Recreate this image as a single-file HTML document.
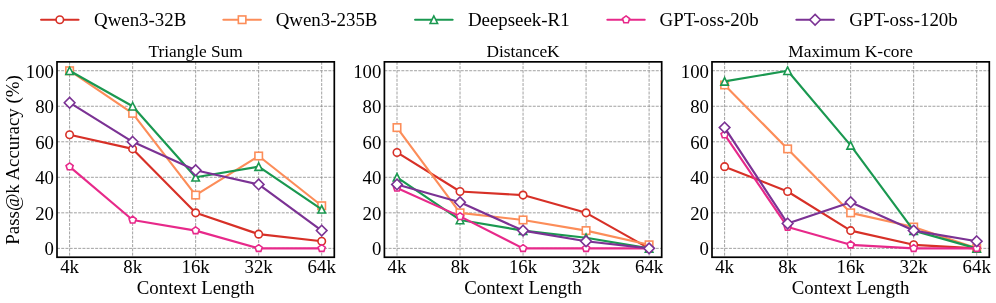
<!DOCTYPE html>
<html lang="en"><head><meta charset="utf-8"><title>Pass@k Accuracy vs Context Length</title>
<style>html,body{margin:0;padding:0;background:#fff}body{width:996px;height:303px;overflow:hidden}svg{display:block}</style></head>
<body>
<svg width="996" height="303" viewBox="0 0 996 303" font-family='"Liberation Serif", serif' fill="#000">
<rect width="996" height="303" fill="#fff"/>
<line x1="41.1" y1="19.7" x2="78.5" y2="19.7" stroke="#d73027" stroke-width="2.15" stroke-linecap="round"/>
<circle cx="59.80" cy="19.70" r="3.75" fill="#fff" stroke="#d73027" stroke-width="1.6" stroke-linejoin="miter"/>
<text x="94" y="25.9" font-size="18.9">Qwen3-32B</text>
<line x1="223.4" y1="19.7" x2="260.8" y2="19.7" stroke="#fc8d59" stroke-width="2.15" stroke-linecap="round"/>
<rect x="238.35" y="15.95" width="7.50" height="7.50" fill="#fff" stroke="#fc8d59" stroke-width="1.6" stroke-linejoin="miter"/>
<text x="275.7" y="25.9" font-size="18.9">Qwen3-235B</text>
<line x1="415.1" y1="19.7" x2="452.6" y2="19.7" stroke="#1a9850" stroke-width="2.15" stroke-linecap="round"/>
<polygon points="433.85,15.95 430.10,23.45 437.60,23.45" fill="#fff" stroke="#1a9850" stroke-width="1.6" stroke-linejoin="miter"/>
<text x="467.9" y="25.9" font-size="18.9">Deepseek-R1</text>
<line x1="607.4" y1="19.7" x2="644.7" y2="19.7" stroke="#e7298a" stroke-width="2.15" stroke-linecap="round"/>
<polygon points="626.05,15.95 629.62,18.54 628.25,22.73 623.85,22.73 622.48,18.54" fill="#fff" stroke="#e7298a" stroke-width="1.6" stroke-linejoin="miter"/>
<text x="659.6" y="25.9" font-size="18.9">GPT-oss-20b</text>
<line x1="796.4" y1="19.7" x2="833.8" y2="19.7" stroke="#7b3294" stroke-width="2.15" stroke-linecap="round"/>
<polygon points="815.10,14.40 820.40,19.70 815.10,25.00 809.80,19.70" fill="#fff" stroke="#7b3294" stroke-width="1.6" stroke-linejoin="miter"/>
<text x="849.3" y="25.9" font-size="18.9">GPT-oss-120b</text>
<path d="M69.60 61.85V257.25M132.63 61.85V257.25M195.65 61.85V257.25M258.67 61.85V257.25M321.70 61.85V257.25M57.00 248.37H334.30M57.00 212.84H334.30M57.00 177.31H334.30M57.00 141.79H334.30M57.00 106.26H334.30M57.00 70.73H334.30" stroke="#909090" stroke-width="0.85" stroke-dasharray="2.96 1.28" fill="none"/>
<polyline points="69.60,134.68 132.63,148.89 195.65,212.84 258.67,234.16 321.70,241.26" fill="none" stroke="#d73027" stroke-width="2.15" stroke-linejoin="round"/>
<circle cx="69.60" cy="134.68" r="3.75" fill="#fff" stroke="#d73027" stroke-width="1.6" stroke-linejoin="miter"/>
<circle cx="132.63" cy="148.89" r="3.75" fill="#fff" stroke="#d73027" stroke-width="1.6" stroke-linejoin="miter"/>
<circle cx="195.65" cy="212.84" r="3.75" fill="#fff" stroke="#d73027" stroke-width="1.6" stroke-linejoin="miter"/>
<circle cx="258.67" cy="234.16" r="3.75" fill="#fff" stroke="#d73027" stroke-width="1.6" stroke-linejoin="miter"/>
<circle cx="321.70" cy="241.26" r="3.75" fill="#fff" stroke="#d73027" stroke-width="1.6" stroke-linejoin="miter"/>
<polyline points="69.60,70.73 132.63,113.36 195.65,195.08 258.67,156.00 321.70,205.74" fill="none" stroke="#fc8d59" stroke-width="2.15" stroke-linejoin="round"/>
<rect x="65.85" y="66.98" width="7.50" height="7.50" fill="#fff" stroke="#fc8d59" stroke-width="1.6" stroke-linejoin="miter"/>
<rect x="128.88" y="109.61" width="7.50" height="7.50" fill="#fff" stroke="#fc8d59" stroke-width="1.6" stroke-linejoin="miter"/>
<rect x="191.90" y="191.33" width="7.50" height="7.50" fill="#fff" stroke="#fc8d59" stroke-width="1.6" stroke-linejoin="miter"/>
<rect x="254.92" y="152.25" width="7.50" height="7.50" fill="#fff" stroke="#fc8d59" stroke-width="1.6" stroke-linejoin="miter"/>
<rect x="317.95" y="201.99" width="7.50" height="7.50" fill="#fff" stroke="#fc8d59" stroke-width="1.6" stroke-linejoin="miter"/>
<polyline points="69.60,70.73 132.63,106.26 195.65,177.31 258.67,166.66 321.70,209.29" fill="none" stroke="#1a9850" stroke-width="2.15" stroke-linejoin="round"/>
<polygon points="69.60,66.98 65.85,74.48 73.35,74.48" fill="#fff" stroke="#1a9850" stroke-width="1.6" stroke-linejoin="miter"/>
<polygon points="132.63,102.51 128.88,110.01 136.38,110.01" fill="#fff" stroke="#1a9850" stroke-width="1.6" stroke-linejoin="miter"/>
<polygon points="195.65,173.56 191.90,181.06 199.40,181.06" fill="#fff" stroke="#1a9850" stroke-width="1.6" stroke-linejoin="miter"/>
<polygon points="258.67,162.91 254.92,170.41 262.42,170.41" fill="#fff" stroke="#1a9850" stroke-width="1.6" stroke-linejoin="miter"/>
<polygon points="321.70,205.54 317.95,213.04 325.45,213.04" fill="#fff" stroke="#1a9850" stroke-width="1.6" stroke-linejoin="miter"/>
<polyline points="69.60,166.66 132.63,219.95 195.65,230.60 258.67,248.37 321.70,248.37" fill="none" stroke="#e7298a" stroke-width="2.15" stroke-linejoin="round"/>
<polygon points="69.60,162.91 73.17,165.50 71.81,169.69 67.40,169.69 66.04,165.50" fill="#fff" stroke="#e7298a" stroke-width="1.6" stroke-linejoin="miter"/>
<polygon points="132.63,216.20 136.19,218.79 134.83,222.98 130.42,222.98 129.06,218.79" fill="#fff" stroke="#e7298a" stroke-width="1.6" stroke-linejoin="miter"/>
<polygon points="195.65,226.85 199.22,229.45 197.85,233.64 193.45,233.64 192.08,229.45" fill="#fff" stroke="#e7298a" stroke-width="1.6" stroke-linejoin="miter"/>
<polygon points="258.67,244.62 262.24,247.21 260.88,251.40 256.47,251.40 255.11,247.21" fill="#fff" stroke="#e7298a" stroke-width="1.6" stroke-linejoin="miter"/>
<polygon points="321.70,244.62 325.26,247.21 323.90,251.40 319.49,251.40 318.13,247.21" fill="#fff" stroke="#e7298a" stroke-width="1.6" stroke-linejoin="miter"/>
<polyline points="69.60,102.71 132.63,141.79 195.65,170.21 258.67,184.42 321.70,230.60" fill="none" stroke="#7b3294" stroke-width="2.15" stroke-linejoin="round"/>
<polygon points="69.60,97.40 74.91,102.71 69.60,108.01 64.30,102.71" fill="#fff" stroke="#7b3294" stroke-width="1.6" stroke-linejoin="miter"/>
<polygon points="132.63,136.48 137.93,141.79 132.63,147.09 127.32,141.79" fill="#fff" stroke="#7b3294" stroke-width="1.6" stroke-linejoin="miter"/>
<polygon points="195.65,164.90 200.95,170.21 195.65,175.51 190.35,170.21" fill="#fff" stroke="#7b3294" stroke-width="1.6" stroke-linejoin="miter"/>
<polygon points="258.67,179.12 263.98,184.42 258.67,189.72 253.37,184.42" fill="#fff" stroke="#7b3294" stroke-width="1.6" stroke-linejoin="miter"/>
<polygon points="321.70,225.30 327.00,230.60 321.70,235.91 316.39,230.60" fill="#fff" stroke="#7b3294" stroke-width="1.6" stroke-linejoin="miter"/>
<rect x="57.00" y="61.85" width="277.3" height="195.4" fill="none" stroke="#000" stroke-width="1.7"/>
<text x="54.00" y="255.17" font-size="18.8" text-anchor="end">0</text>
<text x="54.00" y="219.64" font-size="18.8" text-anchor="end">20</text>
<text x="54.00" y="184.11" font-size="18.8" text-anchor="end">40</text>
<text x="54.00" y="148.59" font-size="18.8" text-anchor="end">60</text>
<text x="54.00" y="113.06" font-size="18.8" text-anchor="end">80</text>
<text x="54.00" y="77.53" font-size="18.8" text-anchor="end">100</text>
<text x="69.60" y="272.7" font-size="18.8" text-anchor="middle">4k</text>
<text x="132.63" y="272.7" font-size="18.8" text-anchor="middle">8k</text>
<text x="195.65" y="272.7" font-size="18.8" text-anchor="middle">16k</text>
<text x="258.67" y="272.7" font-size="18.8" text-anchor="middle">32k</text>
<text x="321.70" y="272.7" font-size="18.8" text-anchor="middle">64k</text>
<text x="195.65" y="293.5" font-size="18.85" text-anchor="middle">Context Length</text>
<text x="195.65" y="56.7" font-size="17.33" text-anchor="middle">Triangle Sum</text>
<path d="M397.00 61.85V257.25M460.03 61.85V257.25M523.05 61.85V257.25M586.07 61.85V257.25M649.10 61.85V257.25M384.40 248.37H661.70M384.40 212.84H661.70M384.40 177.31H661.70M384.40 141.79H661.70M384.40 106.26H661.70M384.40 70.73H661.70" stroke="#909090" stroke-width="0.85" stroke-dasharray="2.96 1.28" fill="none"/>
<polyline points="397.00,152.44 460.03,191.52 523.05,195.08 586.07,212.84 649.10,248.37" fill="none" stroke="#d73027" stroke-width="2.15" stroke-linejoin="round"/>
<circle cx="397.00" cy="152.44" r="3.75" fill="#fff" stroke="#d73027" stroke-width="1.6" stroke-linejoin="miter"/>
<circle cx="460.03" cy="191.52" r="3.75" fill="#fff" stroke="#d73027" stroke-width="1.6" stroke-linejoin="miter"/>
<circle cx="523.05" cy="195.08" r="3.75" fill="#fff" stroke="#d73027" stroke-width="1.6" stroke-linejoin="miter"/>
<circle cx="586.07" cy="212.84" r="3.75" fill="#fff" stroke="#d73027" stroke-width="1.6" stroke-linejoin="miter"/>
<circle cx="649.10" cy="248.37" r="3.75" fill="#fff" stroke="#d73027" stroke-width="1.6" stroke-linejoin="miter"/>
<polyline points="397.00,127.58 460.03,212.84 523.05,219.95 586.07,230.60 649.10,244.82" fill="none" stroke="#fc8d59" stroke-width="2.15" stroke-linejoin="round"/>
<rect x="393.25" y="123.83" width="7.50" height="7.50" fill="#fff" stroke="#fc8d59" stroke-width="1.6" stroke-linejoin="miter"/>
<rect x="456.28" y="209.09" width="7.50" height="7.50" fill="#fff" stroke="#fc8d59" stroke-width="1.6" stroke-linejoin="miter"/>
<rect x="519.30" y="216.20" width="7.50" height="7.50" fill="#fff" stroke="#fc8d59" stroke-width="1.6" stroke-linejoin="miter"/>
<rect x="582.32" y="226.85" width="7.50" height="7.50" fill="#fff" stroke="#fc8d59" stroke-width="1.6" stroke-linejoin="miter"/>
<rect x="645.35" y="241.07" width="7.50" height="7.50" fill="#fff" stroke="#fc8d59" stroke-width="1.6" stroke-linejoin="miter"/>
<polyline points="397.00,177.31 460.03,219.95 523.05,230.60 586.07,237.71 649.10,248.37" fill="none" stroke="#1a9850" stroke-width="2.15" stroke-linejoin="round"/>
<polygon points="397.00,173.56 393.25,181.06 400.75,181.06" fill="#fff" stroke="#1a9850" stroke-width="1.6" stroke-linejoin="miter"/>
<polygon points="460.03,216.20 456.28,223.70 463.78,223.70" fill="#fff" stroke="#1a9850" stroke-width="1.6" stroke-linejoin="miter"/>
<polygon points="523.05,226.85 519.30,234.35 526.80,234.35" fill="#fff" stroke="#1a9850" stroke-width="1.6" stroke-linejoin="miter"/>
<polygon points="586.07,233.96 582.32,241.46 589.82,241.46" fill="#fff" stroke="#1a9850" stroke-width="1.6" stroke-linejoin="miter"/>
<polygon points="649.10,244.62 645.35,252.12 652.85,252.12" fill="#fff" stroke="#1a9850" stroke-width="1.6" stroke-linejoin="miter"/>
<polyline points="397.00,187.97 460.03,216.39 523.05,248.37 586.07,248.37 649.10,248.37" fill="none" stroke="#e7298a" stroke-width="2.15" stroke-linejoin="round"/>
<polygon points="397.00,184.22 400.57,186.81 399.21,191.01 394.80,191.01 393.44,186.81" fill="#fff" stroke="#e7298a" stroke-width="1.6" stroke-linejoin="miter"/>
<polygon points="460.03,212.64 463.59,215.23 462.23,219.43 457.82,219.43 456.46,215.23" fill="#fff" stroke="#e7298a" stroke-width="1.6" stroke-linejoin="miter"/>
<polygon points="523.05,244.62 526.62,247.21 525.25,251.40 520.85,251.40 519.48,247.21" fill="#fff" stroke="#e7298a" stroke-width="1.6" stroke-linejoin="miter"/>
<polygon points="586.07,244.62 589.64,247.21 588.28,251.40 583.87,251.40 582.51,247.21" fill="#fff" stroke="#e7298a" stroke-width="1.6" stroke-linejoin="miter"/>
<polygon points="649.10,244.62 652.66,247.21 651.30,251.40 646.89,251.40 645.53,247.21" fill="#fff" stroke="#e7298a" stroke-width="1.6" stroke-linejoin="miter"/>
<polyline points="397.00,184.42 460.03,202.18 523.05,230.60 586.07,241.26 649.10,248.37" fill="none" stroke="#7b3294" stroke-width="2.15" stroke-linejoin="round"/>
<polygon points="397.00,179.12 402.31,184.42 397.00,189.72 391.70,184.42" fill="#fff" stroke="#7b3294" stroke-width="1.6" stroke-linejoin="miter"/>
<polygon points="460.03,196.88 465.33,202.18 460.03,207.49 454.72,202.18" fill="#fff" stroke="#7b3294" stroke-width="1.6" stroke-linejoin="miter"/>
<polygon points="523.05,225.30 528.35,230.60 523.05,235.91 517.75,230.60" fill="#fff" stroke="#7b3294" stroke-width="1.6" stroke-linejoin="miter"/>
<polygon points="586.07,235.96 591.38,241.26 586.07,246.57 580.77,241.26" fill="#fff" stroke="#7b3294" stroke-width="1.6" stroke-linejoin="miter"/>
<polygon points="649.10,243.06 654.40,248.37 649.10,253.67 643.79,248.37" fill="#fff" stroke="#7b3294" stroke-width="1.6" stroke-linejoin="miter"/>
<rect x="384.40" y="61.85" width="277.3" height="195.4" fill="none" stroke="#000" stroke-width="1.7"/>
<text x="381.40" y="255.17" font-size="18.8" text-anchor="end">0</text>
<text x="381.40" y="219.64" font-size="18.8" text-anchor="end">20</text>
<text x="381.40" y="184.11" font-size="18.8" text-anchor="end">40</text>
<text x="381.40" y="148.59" font-size="18.8" text-anchor="end">60</text>
<text x="381.40" y="113.06" font-size="18.8" text-anchor="end">80</text>
<text x="381.40" y="77.53" font-size="18.8" text-anchor="end">100</text>
<text x="397.00" y="272.7" font-size="18.8" text-anchor="middle">4k</text>
<text x="460.03" y="272.7" font-size="18.8" text-anchor="middle">8k</text>
<text x="523.05" y="272.7" font-size="18.8" text-anchor="middle">16k</text>
<text x="586.07" y="272.7" font-size="18.8" text-anchor="middle">32k</text>
<text x="649.10" y="272.7" font-size="18.8" text-anchor="middle">64k</text>
<text x="523.05" y="293.5" font-size="18.85" text-anchor="middle">Context Length</text>
<text x="523.05" y="56.7" font-size="17.33" text-anchor="middle">DistanceK</text>
<path d="M724.60 61.85V257.25M787.63 61.85V257.25M850.65 61.85V257.25M913.67 61.85V257.25M976.70 61.85V257.25M712.00 248.37H989.30M712.00 212.84H989.30M712.00 177.31H989.30M712.00 141.79H989.30M712.00 106.26H989.30M712.00 70.73H989.30" stroke="#909090" stroke-width="0.85" stroke-dasharray="2.96 1.28" fill="none"/>
<polyline points="724.60,166.66 787.63,191.52 850.65,230.60 913.67,244.82 976.70,248.37" fill="none" stroke="#d73027" stroke-width="2.15" stroke-linejoin="round"/>
<circle cx="724.60" cy="166.66" r="3.75" fill="#fff" stroke="#d73027" stroke-width="1.6" stroke-linejoin="miter"/>
<circle cx="787.63" cy="191.52" r="3.75" fill="#fff" stroke="#d73027" stroke-width="1.6" stroke-linejoin="miter"/>
<circle cx="850.65" cy="230.60" r="3.75" fill="#fff" stroke="#d73027" stroke-width="1.6" stroke-linejoin="miter"/>
<circle cx="913.67" cy="244.82" r="3.75" fill="#fff" stroke="#d73027" stroke-width="1.6" stroke-linejoin="miter"/>
<circle cx="976.70" cy="248.37" r="3.75" fill="#fff" stroke="#d73027" stroke-width="1.6" stroke-linejoin="miter"/>
<polyline points="724.60,84.94 787.63,148.89 850.65,212.84 913.67,227.05 976.70,248.37" fill="none" stroke="#fc8d59" stroke-width="2.15" stroke-linejoin="round"/>
<rect x="720.85" y="81.19" width="7.50" height="7.50" fill="#fff" stroke="#fc8d59" stroke-width="1.6" stroke-linejoin="miter"/>
<rect x="783.88" y="145.14" width="7.50" height="7.50" fill="#fff" stroke="#fc8d59" stroke-width="1.6" stroke-linejoin="miter"/>
<rect x="846.90" y="209.09" width="7.50" height="7.50" fill="#fff" stroke="#fc8d59" stroke-width="1.6" stroke-linejoin="miter"/>
<rect x="909.92" y="223.30" width="7.50" height="7.50" fill="#fff" stroke="#fc8d59" stroke-width="1.6" stroke-linejoin="miter"/>
<rect x="972.95" y="244.62" width="7.50" height="7.50" fill="#fff" stroke="#fc8d59" stroke-width="1.6" stroke-linejoin="miter"/>
<polyline points="724.60,81.39 787.63,70.73 850.65,145.34 913.67,230.60 976.70,248.37" fill="none" stroke="#1a9850" stroke-width="2.15" stroke-linejoin="round"/>
<polygon points="724.60,77.64 720.85,85.14 728.35,85.14" fill="#fff" stroke="#1a9850" stroke-width="1.6" stroke-linejoin="miter"/>
<polygon points="787.63,66.98 783.88,74.48 791.38,74.48" fill="#fff" stroke="#1a9850" stroke-width="1.6" stroke-linejoin="miter"/>
<polygon points="850.65,141.59 846.90,149.09 854.40,149.09" fill="#fff" stroke="#1a9850" stroke-width="1.6" stroke-linejoin="miter"/>
<polygon points="913.67,226.85 909.92,234.35 917.42,234.35" fill="#fff" stroke="#1a9850" stroke-width="1.6" stroke-linejoin="miter"/>
<polygon points="976.70,244.62 972.95,252.12 980.45,252.12" fill="#fff" stroke="#1a9850" stroke-width="1.6" stroke-linejoin="miter"/>
<polyline points="724.60,134.68 787.63,227.05 850.65,244.82 913.67,248.37 976.70,248.37" fill="none" stroke="#e7298a" stroke-width="2.15" stroke-linejoin="round"/>
<polygon points="724.60,130.93 728.17,133.52 726.81,137.71 722.40,137.71 721.04,133.52" fill="#fff" stroke="#e7298a" stroke-width="1.6" stroke-linejoin="miter"/>
<polygon points="787.63,223.30 791.19,225.89 789.83,230.09 785.42,230.09 784.06,225.89" fill="#fff" stroke="#e7298a" stroke-width="1.6" stroke-linejoin="miter"/>
<polygon points="850.65,241.07 854.22,243.66 852.85,247.85 848.45,247.85 847.08,243.66" fill="#fff" stroke="#e7298a" stroke-width="1.6" stroke-linejoin="miter"/>
<polygon points="913.67,244.62 917.24,247.21 915.88,251.40 911.47,251.40 910.11,247.21" fill="#fff" stroke="#e7298a" stroke-width="1.6" stroke-linejoin="miter"/>
<polygon points="976.70,244.62 980.26,247.21 978.90,251.40 974.49,251.40 973.13,247.21" fill="#fff" stroke="#e7298a" stroke-width="1.6" stroke-linejoin="miter"/>
<polyline points="724.60,127.58 787.63,223.50 850.65,202.18 913.67,230.60 976.70,241.26" fill="none" stroke="#7b3294" stroke-width="2.15" stroke-linejoin="round"/>
<polygon points="724.60,122.27 729.91,127.58 724.60,132.88 719.30,127.58" fill="#fff" stroke="#7b3294" stroke-width="1.6" stroke-linejoin="miter"/>
<polygon points="787.63,218.20 792.93,223.50 787.63,228.80 782.32,223.50" fill="#fff" stroke="#7b3294" stroke-width="1.6" stroke-linejoin="miter"/>
<polygon points="850.65,196.88 855.95,202.18 850.65,207.49 845.35,202.18" fill="#fff" stroke="#7b3294" stroke-width="1.6" stroke-linejoin="miter"/>
<polygon points="913.67,225.30 918.98,230.60 913.67,235.91 908.37,230.60" fill="#fff" stroke="#7b3294" stroke-width="1.6" stroke-linejoin="miter"/>
<polygon points="976.70,235.96 982.00,241.26 976.70,246.57 971.39,241.26" fill="#fff" stroke="#7b3294" stroke-width="1.6" stroke-linejoin="miter"/>
<rect x="712.00" y="61.85" width="277.3" height="195.4" fill="none" stroke="#000" stroke-width="1.7"/>
<text x="709.00" y="255.17" font-size="18.8" text-anchor="end">0</text>
<text x="709.00" y="219.64" font-size="18.8" text-anchor="end">20</text>
<text x="709.00" y="184.11" font-size="18.8" text-anchor="end">40</text>
<text x="709.00" y="148.59" font-size="18.8" text-anchor="end">60</text>
<text x="709.00" y="113.06" font-size="18.8" text-anchor="end">80</text>
<text x="709.00" y="77.53" font-size="18.8" text-anchor="end">100</text>
<text x="724.60" y="272.7" font-size="18.8" text-anchor="middle">4k</text>
<text x="787.63" y="272.7" font-size="18.8" text-anchor="middle">8k</text>
<text x="850.65" y="272.7" font-size="18.8" text-anchor="middle">16k</text>
<text x="913.67" y="272.7" font-size="18.8" text-anchor="middle">32k</text>
<text x="976.70" y="272.7" font-size="18.8" text-anchor="middle">64k</text>
<text x="850.65" y="293.5" font-size="18.85" text-anchor="middle">Context Length</text>
<text x="850.65" y="56.7" font-size="17.33" text-anchor="middle">Maximum K-core</text>
<text transform="translate(18.8 159.9) rotate(-90)" font-size="18.9" text-anchor="middle">Pass@k Accuracy (%)</text>
</svg>
</body></html>
